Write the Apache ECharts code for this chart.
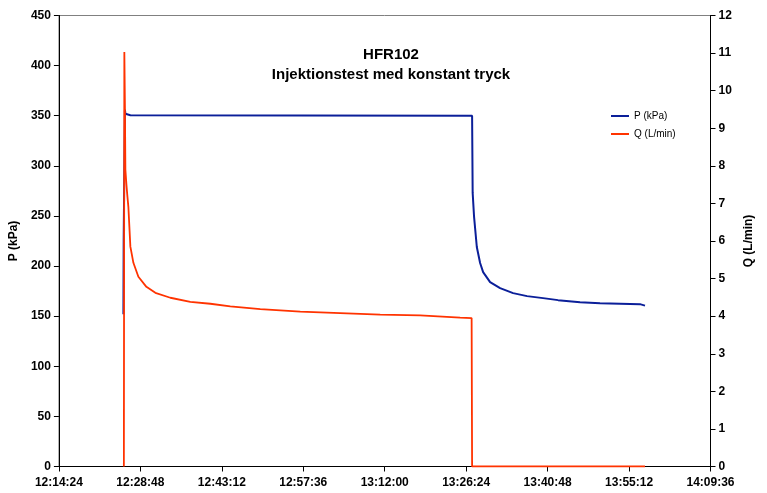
<!DOCTYPE html>
<html>
<head>
<meta charset="utf-8">
<script src="https://cdn.jsdelivr.net/npm/echarts@6/dist/echarts.min.js"></script>
<style>html,body{margin:0;padding:0;background:#fff}#c{width:767px;height:493px}</style>
</head>
<body>
<div id="c"></div>
<script>
// time in seconds since midnight
const xMin = 44064;   // 12:14:24
const xMax = 50976;   // 14:09:36
const xStep = 864;    // 00:14:24

const pTime = [44748, 44751, 44764, 44769, 44790, 44822, 48447, 48453, 48468, 48497, 48532, 48564, 48638, 48744, 48882, 49030, 49200, 49359, 49592, 49804, 50016, 50228, 50281];
const pVals = [152, 226, 356, 352, 351, 350.5, 350, 273, 249, 219, 203, 194, 184, 178, 173, 170, 168, 166, 164, 163, 162.5, 162, 160.5];

const qTime = [44753, 44758, 44764, 44769, 44780, 44790, 44801, 44822, 44854, 44907, 44992, 45087, 45246, 45458, 45670, 45882, 46200, 46624, 47048, 47472, 47896, 48320, 48442, 48447, 50281];
const qVals = [0, 11.03, 9.6, 7.9, 7.5, 7.2, 6.9, 5.85, 5.42, 5.05, 4.78, 4.62, 4.49, 4.38, 4.33, 4.26, 4.19, 4.12, 4.08, 4.04, 4.02, 3.96, 3.95, 0, 0];

const pTicks = [0, 50, 100, 150, 200, 250, 300, 350, 400, 450];
const qTicks = [0, 1, 2, 3, 4, 5, 6, 7, 8, 9, 10, 11, 12];

function hms(s){
  const h = Math.floor(s/3600), m = Math.floor((s%3600)/60), sec = Math.round(s%60);
  return h + ':' + String(m).padStart(2,'0') + ':' + String(sec).padStart(2,'0');
}

const chart = echarts.init(document.getElementById('c'), null, {renderer:'canvas'});
const font = 'Liberation Sans, Arial, sans-serif';
const lab = {color:'#000', fontWeight:'bold', fontSize:12, fontFamily:font};
chart.setOption({
  animation:false,
  backgroundColor:'#fff',
  title:{
    text:'HFR102\nInjektionstest med konstant tryck',
    left:386, top:40, textAlign:'center',
    textStyle:{fontFamily:font, fontWeight:'bold', fontSize:15, color:'#000', lineHeight:20}
  },
  legend:{
    orient:'vertical', left:606, top:106, itemWidth:18, itemHeight:2, itemGap:8,
    icon:'rect',
    textStyle:{fontFamily:font, fontSize:10, color:'#000'},
    data:['P (kPa)','Q (L/min)']
  },
  grid:{left:58.5, right:56.5, top:15.5, bottom:26.5, show:true, borderColor:'#808080', borderWidth:1},
  xAxis:{
    type:'value', min:xMin, max:xMax, interval:xStep,
    axisLine:{lineStyle:{color:'#000', width:1}},
    axisTick:{show:true, length:5, lineStyle:{color:'#000'}},
    axisLabel:Object.assign({formatter:v=>hms(v), margin:10}, lab),
    splitLine:{show:false}
  },
  yAxis:[{
    type:'value', min:0, max:450, interval:50, position:'left',
    name:'P (kPa)', nameLocation:'middle', nameGap:38, nameRotate:90,
    nameTextStyle:{fontFamily:font, fontWeight:'bold', fontSize:12, color:'#000'},
    axisLine:{show:true, lineStyle:{color:'#000'}},
    axisTick:{show:true, length:5, lineStyle:{color:'#000'}},
    axisLabel:Object.assign({margin:8, customValues:pTicks}, lab),
    splitLine:{show:false}
  },{
    type:'value', min:0, max:12, interval:1, position:'right',
    name:'Q (L/min)', nameLocation:'middle', nameGap:32, nameRotate:90,
    nameTextStyle:{fontFamily:font, fontWeight:'bold', fontSize:12, color:'#000'},
    axisLine:{show:true, lineStyle:{color:'#000'}},
    axisTick:{show:true, length:5, lineStyle:{color:'#000'}},
    axisLabel:Object.assign({margin:8}, lab),
    splitLine:{show:false}
  }],
  series:[{
    name:'P (kPa)', type:'line', yAxisIndex:0, showSymbol:false,
    lineStyle:{color:'#0B1F99', width:2}, itemStyle:{color:'#0B1F99'},
    data:pTime.map((t,i)=>[t,pVals[i]]), z:2
  },{
    name:'Q (L/min)', type:'line', yAxisIndex:1, showSymbol:false,
    lineStyle:{color:'#FF3300', width:1.8}, itemStyle:{color:'#FF3300'},
    data:qTime.map((t,i)=>[t,qVals[i]]), z:3
  }]
});
</script>
</body>
</html>
